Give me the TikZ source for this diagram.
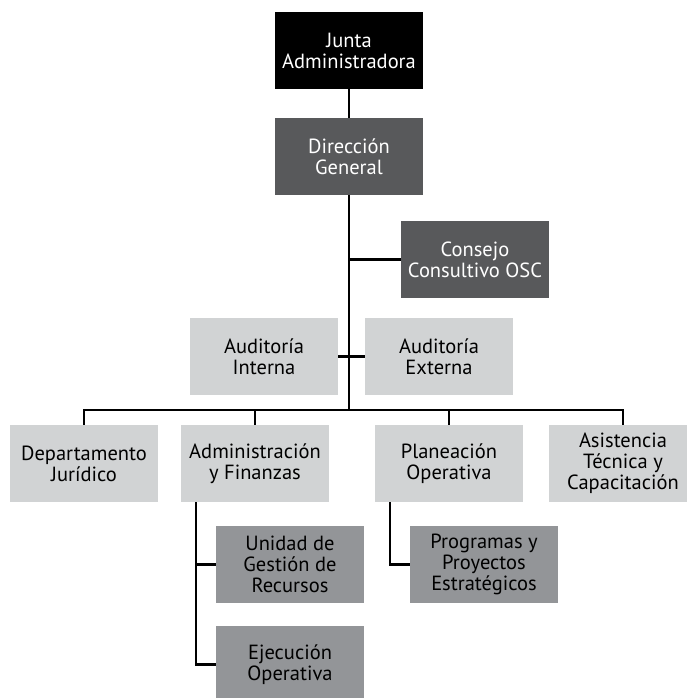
\documentclass[tikz,border=0pt]{standalone}
\usepackage{fontspec}
\setmainfont{PT Sans}
\definecolor{darkbox}{HTML}{58595B}
\definecolor{lightbox}{HTML}{D1D3D4}
\definecolor{midbox}{HTML}{939598}
\begin{document}
\begin{tikzpicture}[x=1pt,y=-1pt,
  box/.style={minimum width=148pt,minimum height=77pt,inner sep=0pt,align=center,
    font=\fontsize{20.5}{21}\selectfont},
  topbox/.style={box,fill=black,text=white},
  darkbx/.style={box,fill=darkbox,text=white},
  lightbx/.style={box,fill=lightbox,text=black},
  midbx/.style={box,fill=midbox,text=black},
  link/.style={line width=2.2pt}]
\useasboundingbox (0,0) rectangle (686,698);
\node[topbox](junta) at (349,50.5){Junta\\Administradora};
\node[darkbx](direccion) at (349,156.5){Dirección\\General};
\node[darkbx](consejo) at (475,259.5){Consejo\\Consultivo OSC};
\node[lightbx](audint) at (264,356.5){Auditoría\\Interna};
\node[lightbx](audext) at (439,356.5){Auditoría\\Externa};
\node[lightbx](depto) at (84,463.5){Departamento\\Jurídico};
\node[lightbx](admin) at (255,463.5){Administración\\y Finanzas};
\node[lightbx](plan) at (449,463.5){Planeación\\Operativa};
\node[lightbx](asist) at (623,463.5){Asistencia\\Técnica y\\Capacitación};
\node[midbx](unidad) at (290,564.5){Unidad de\\Gestión de\\Recursos};
\node[midbx](progs) at (484,564.5){Programas y\\Proyectos\\Estratégicos};
\node[midbx](ejec) at (290,664.5){Ejecución\\Operativa};
\coordinate (bus) at (349,410);
\draw[link] (junta) -- (direccion);
\draw[link] (direccion.south) -- (bus);
\draw[link] (consejo.west) -- (consejo.west -| bus);
\draw[link] (audint) -- (audext);
\foreach \n in {depto,admin,plan,asist}
  \draw[link] (\n.north) |- (bus);
\draw[link] ([xshift=15pt]admin.south west) |- (unidad.west);
\draw[link] ([xshift=15pt]admin.south west) |- (ejec.west);
\draw[link] ([xshift=15pt]plan.south west) |- (progs.west);
\end{tikzpicture}
\end{document}
